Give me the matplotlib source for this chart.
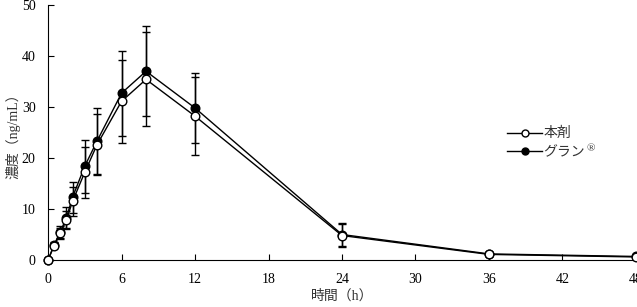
import matplotlib
matplotlib.use('Agg')
import matplotlib.pyplot as plt
from matplotlib.lines import Line2D

# time points (h)
hours = [0, 0.5, 1, 1.5, 2, 3, 4, 6, 8, 12, 24, 36, 48]

# 本剤 (open circles)
test_mean = [0, 2.8, 5.2, 7.8, 11.5, 17.2, 22.6, 31.1, 35.4, 28.2, 4.8, 1.1, 0.6]
test_sd = [0, 0.5, 1.1, 1.8, 2.8, 5.0, 6.0, 8.2, 9.2, 7.7, 2.3, 0.3, 0.2]

# グラン® (filled circles)
ref_mean = [0, 3.0, 5.5, 8.3, 12.3, 18.4, 23.3, 32.7, 37.0, 29.8, 5.0, 1.2, 0.7]
ref_sd = [0, 0.5, 1.2, 2.0, 3.0, 5.2, 6.5, 8.3, 8.8, 6.9, 2.3, 0.3, 0.2]

xticks = [0, 6, 12, 18, 24, 30, 36, 42, 48]
yticks = [0, 10, 20, 30, 40, 50]

fonts = ['Liberation Serif', 'Noto Sans CJK JP']
plt.rcParams['font.family'] = fonts

fig = plt.figure(figsize=(6.37, 3.07), dpi=100)
ax = fig.add_axes([0.0754, 0.153, 0.923, 0.831])

ax.errorbar(hours, ref_mean, yerr=ref_sd, color='black', marker='o',
            markersize=6.2, markerfacecolor='black', markeredgecolor='black',
            linewidth=1.0, elinewidth=1.0, capsize=3, capthick=1.0,
            zorder=3, clip_on=False)
ax.errorbar(hours, test_mean, yerr=test_sd, color='black', marker='o',
            markersize=6.2, markerfacecolor='white', markeredgecolor='black',
            linewidth=1.0, elinewidth=1.0, capsize=3, capthick=1.0,
            zorder=4, clip_on=False)

ax.set_xlim(0, 48)
ax.set_ylim(0, 50)
ax.set_xticks(xticks)
ax.set_yticks(yticks)
ax.tick_params(direction='in', length=4, width=0.8, labelsize=10, colors='black')
ax.tick_params(axis='x', pad=9)
ax.tick_params(axis='y', pad=9)
ax.spines['top'].set_visible(False)
ax.spines['right'].set_visible(False)
ax.set_xlabel('時間（h）', fontsize=10, labelpad=3, color='#333333')
ax.set_ylabel('濃度（ng/mL）', fontsize=10, labelpad=1, color='#333333')

h_test = Line2D([], [], color='black', linewidth=1.0, marker='o', markersize=5,
                markerfacecolor='white', markeredgecolor='black')
h_ref = Line2D([], [], color='black', linewidth=1.0, marker='o', markersize=5,
               markerfacecolor='black', markeredgecolor='black')
leg = ax.legend([h_test, h_ref], ['本剤', 'グラン'], loc='upper left',
                bbox_to_anchor=(0.76, 0.57), frameon=False, fontsize=10,
                handlelength=2.5, handletextpad=0.1, labelspacing=0.4)
for t in leg.get_texts():
    t.set_color('#333333')

# superscript ® after the second legend entry
fig.canvas.draw()
bb = leg.get_texts()[1].get_window_extent()
fig.text((bb.x1 + 1) / fig.bbox.width, (bb.y1 + 2) / fig.bbox.height, '®',
         fontsize=8, color='#333333', va='top', ha='left')

fig.savefig('out.png', dpi=100)
